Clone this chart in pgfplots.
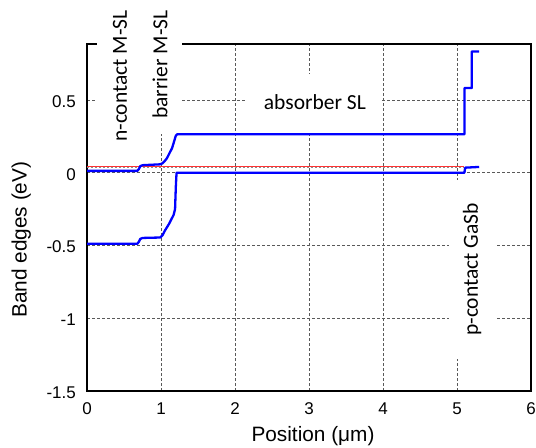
\documentclass[border=0pt]{standalone}
\usepackage{fontspec}
\setmainfont{Liberation Sans}
\newfontfamily\calibri{Carlito}
\usepackage{pgfplots}
\pgfplotsset{compat=1.18}
\begin{document}
\begin{tikzpicture}
\begin{axis}[
  scale only axis, width=444pt, height=347pt,
  xmin=0, xmax=6, ymin=-1.5, ymax=0.885,
  xtick={0,1,2,3,4,5,6}, ytick={-1.5,-1,-0.5,0,0.5},
  xticklabels={0,1,2,3,4,5,6}, yticklabels={-1.5,-1,-0.5,0,0.5},
  major tick length=0pt,
  grid=major,
  major grid style={black!65, dash pattern=on 3pt off 2pt, line width=0.75pt},
  axis line style={black, line width=1.4pt},
  tick label style={font=\fontsize{17}{17}\selectfont, inner sep=0pt},
  xticklabel style={anchor=center, yshift=-17.3pt},
  yticklabel style={anchor=east, xshift=-11pt, yshift=-1.5pt},
  xlabel={Position (μm)}, ylabel={Band edges (eV)},
  label style={font=\fontsize{20.8}{22}\selectfont},
  xlabel style={at={([yshift=-50.7pt]rel axis cs:0.509,0)}, anchor=base},
  ylabel style={at={([xshift=-60.3pt]rel axis cs:0,0.436)}, anchor=base},
  clip=false,
]
\node[font=\calibri\fontsize{21.5}{24}\selectfont, fill=white, rotate=90, anchor=east, inner xsep=15pt, inner ysep=0pt, minimum height=46pt] at (axis cs:0.446,1.221) {n-contact M-SL};
\node[font=\calibri\fontsize{21.5}{24}\selectfont, fill=white, rotate=90, anchor=east, inner xsep=15pt, inner ysep=0pt, minimum height=44pt] at (axis cs:0.986,1.221) {barrier M-SL};
\node[font=\calibri\fontsize{21.5}{24}\selectfont, fill=white, anchor=center, inner xsep=16.5pt, inner ysep=0pt, minimum height=57pt] at (axis cs:3.08,0.486) {absorber SL};
\node[font=\calibri\fontsize{21.5}{24}\selectfont, fill=white, rotate=90, anchor=center, inner xsep=23pt, inner ysep=0pt, minimum height=47pt] at (axis cs:5.203,-0.665) {p-contact GaSb};

% Fermi level
\addplot[red!80, line width=1.1pt] coordinates {(0,0.043) (5.10,0.043)};
\addplot[black!45, line width=0.5pt, dash pattern=on 2pt off 2pt] coordinates {(0,0.041) (5.10,0.041)};

% conduction band
\addplot[blue, line width=2.3pt, line join=round] coordinates {
(0,0.013) (0.68,0.013) (0.70,0.025) (0.72,0.045) (0.75,0.052) (0.99,0.058)
(1.02,0.065) (1.05,0.08) (1.08,0.10) (1.11,0.13) (1.15,0.17) (1.18,0.22) (1.20,0.255) (1.22,0.265)
(5.10,0.265) (5.10,0.582) (5.20,0.582) (5.20,0.834) (5.30,0.834)};

% valence band
\addplot[blue, line width=2.3pt, line join=round] coordinates {
(0,-0.488) (0.68,-0.488) (0.70,-0.475) (0.72,-0.455) (0.75,-0.448) (0.99,-0.445)
(1.02,-0.43) (1.05,-0.40) (1.08,-0.375) (1.11,-0.35) (1.14,-0.32) (1.17,-0.29) (1.19,-0.25)
(1.20,-0.10) (1.21,0.0) (5.10,0.0) (5.11,0.035) (5.30,0.04)};
\end{axis}
\pgfresetboundingbox
\path[use as bounding box] ([xshift=-87pt,yshift=-56pt]current axis.south west) rectangle ([xshift=5pt,yshift=44pt]current axis.north east);
\end{tikzpicture}
\end{document}
